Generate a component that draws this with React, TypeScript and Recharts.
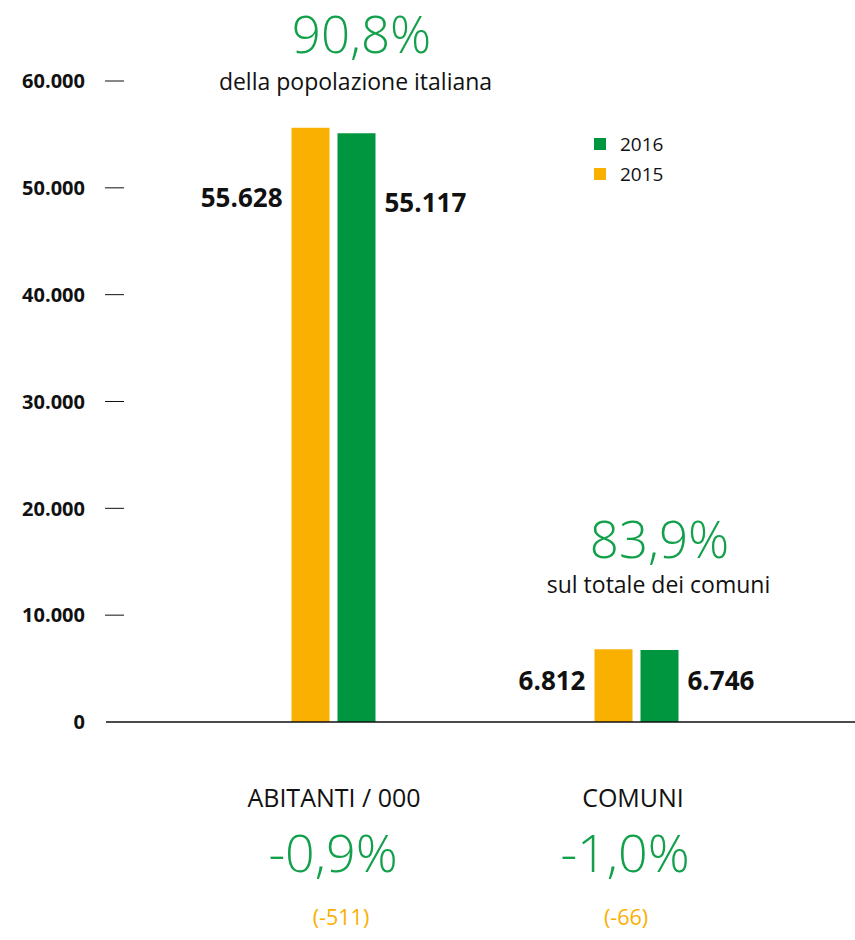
import React from "react";
import { BarChart, Bar, XAxis, YAxis, LabelList, Legend } from "recharts";

const categories = ["ABITANTI / 000", "COMUNI"];
const values2015 = [55628, 6812];
const values2016 = [55117, 6746];
const valueLabels2015 = ["55.628", "6.812"];
const valueLabels2016 = ["55.117", "6.746"];
const changePct = ["-0,9%", "-1,0%"];
const changeAbs = ["(-511)", "(-66)"];
const sharePct = ["90,8%", "83,9%"];
const shareText = ["della popolazione italiana", "sul totale dei comuni"];
const yTicks = [0, 10000, 20000, 30000, 40000, 50000, 60000];
const yTickLabels = ["0", "10.000", "20.000", "30.000", "40.000", "50.000", "60.000"];
const legendNames = ["2016", "2015"];

const ORANGE = "#F9B000";
const GREEN = "#009640";
const TEXT_GREEN = "#12A04B";
const FONT = "'Open Sans', 'Noto Sans', sans-serif";

const data = categories.map((c, i) => ({
  name: c,
  v2015: values2015[i],
  v2016: values2016[i],
}));

// layout for the share annotations (baselines, horizontal shift from group centre)
const shareLayout = [
  { dx: 28, txtDx: -6, pctY: 53, txtY: 90 },
  { dx: 23, txtDx: -1, pctY: 558, txtY: 593 },
];
// horizontal shifts of the texts under the axis
const xLabelLayout = [
  { t: 1, p: 0, a: 8 },
  { t: -3, p: -11, a: -10 },
];
const GROUP_HALF = 42; // (38 + 8 + 38) / 2

const YTick = (props: any) => {
  const { x, y, payload } = props;
  const idx = yTicks.indexOf(payload.value);
  return (
    <g>
      <text
        x={x - 21}
        y={y}
        dy="0.36em"
        textAnchor="end"
        fontFamily={FONT}
        fontWeight={700}
        fontSize={20}
        fill="#111"
      >
        {yTickLabels[idx]}
      </text>
      {payload.value !== 0 && (
        <line x1={x - 1} x2={x + 18} y1={y} y2={y} stroke="#111" strokeWidth={1} />
      )}
    </g>
  );
};

const XTick = (props: any) => {
  const { x, y, payload } = props;
  const idx = categories.indexOf(payload.value);
  const l = xLabelLayout[idx];
  return (
    <g fontFamily={FONT}>
      <text x={x + l.t} y={y + 85} textAnchor="middle" fontSize={25} fill="#111">
        {categories[idx]}
      </text>
      <text x={x + l.p} y={y + 150} textAnchor="middle" fontSize={52} fontWeight={300} fill={TEXT_GREEN}>
        {changePct[idx]}
      </text>
      <text x={x + l.a} y={y + 203} textAnchor="middle" fontSize={21.5} fill={ORANGE}>
        {changeAbs[idx]}
      </text>
    </g>
  );
};

const labelBaseline = (y: number, height: number) => y + Math.min(height / 2 + 4, 79);

const Label2015 = (props: any) => {
  const { x, y, height, index } = props;
  return (
    <text
      x={x - 9}
      y={labelBaseline(y, height)}
      textAnchor="end"
      fontFamily={FONT}
      fontWeight={700}
      fontSize={26}
      fill="#111"
    >
      {valueLabels2015[index]}
    </text>
  );
};

const Label2016 = (props: any) => {
  const { x, y, width, height, index } = props;
  return (
    <text
      x={x + width + 9}
      y={labelBaseline(y, height)}
      textAnchor="start"
      fontFamily={FONT}
      fontWeight={700}
      fontSize={26}
      fill="#111"
    >
      {valueLabels2016[index]}
    </text>
  );
};

const ShareLabel = (props: any) => {
  const { x, index } = props;
  const s = shareLayout[index];
  const cx = x + GROUP_HALF + s.dx;
  return (
    <g fontFamily={FONT}>
      <text x={cx} y={s.pctY} textAnchor="middle" fontSize={51} fontWeight={300} fill={TEXT_GREEN}>
        {sharePct[index]}
      </text>
      <text x={cx + s.txtDx} y={s.txtY} textAnchor="middle" fontSize={23} fill="#111">
        {shareText[index]}
      </text>
    </g>
  );
};

const LegendContent = () => {
  const colors = [GREEN, ORANGE];
  return (
    <div style={{ fontFamily: FONT }}>
      {legendNames.map((n, i) => (
        <div key={n} style={{ position: "relative", height: 30 }}>
          <div
            style={{
              position: "absolute",
              left: 0,
              top: 9,
              width: 12,
              height: 12,
              background: colors[i],
            }}
          />
          <div
            style={{
              position: "absolute",
              left: 26,
              top: 3,
              fontSize: 19,
              lineHeight: "24px",
              color: "#111",
            }}
          >
            {n}
          </div>
        </div>
      ))}
    </div>
  );
};

export default function App() {
  return (
    <div style={{ position: "absolute", left: 0, top: 0, width: 855, height: 940, background: "#fff" }}>
      <BarChart
        width={855}
        height={940}
        data={data}
        margin={{ top: 81, right: 0, bottom: 0, left: 0 }}
        barGap={8}
        barSize={38}
      >
        <XAxis
          dataKey="name"
          height={218}
          padding={{ left: 75.5, right: 67.5 }}
          axisLine={{ stroke: "#111", strokeWidth: 1.5 }}
          tickLine={false}
          tickSize={0}
          tickMargin={0}
          tick={<XTick />}
          interval={0}
        />
        <YAxis
          width={106}
          domain={[0, 60000]}
          ticks={yTicks}
          axisLine={false}
          tickLine={false}
          tickSize={0}
          tickMargin={0}
          tick={<YTick />}
          interval={0}
        />
        <Legend
          layout="vertical"
          align="center"
          verticalAlign="middle"
          content={<LegendContent />}
          wrapperStyle={{ position: "absolute", left: 594, top: 129, width: 100, height: 60 }}
        />
        <Bar dataKey="v2015" name="2015" fill={ORANGE} isAnimationActive={false}>
          <LabelList dataKey="v2015" content={<Label2015 />} />
          <LabelList dataKey="v2015" content={<ShareLabel />} />
        </Bar>
        <Bar dataKey="v2016" name="2016" fill={GREEN} isAnimationActive={false}>
          <LabelList dataKey="v2016" content={<Label2016 />} />
        </Bar>
      </BarChart>
    </div>
  );
}
